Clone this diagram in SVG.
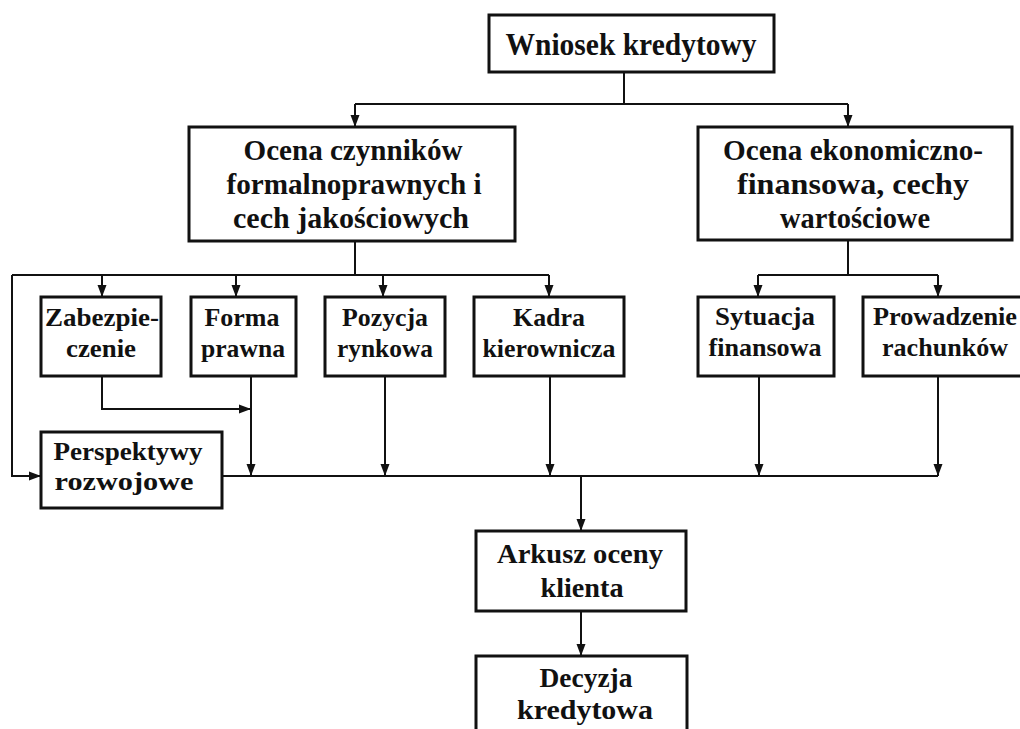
<svg xmlns="http://www.w3.org/2000/svg" width="1020" height="729" viewBox="0 0 1020 729">
  <style>
    .box { fill: #ffffff; stroke: #111111; stroke-width: 3; }
    .wire { fill: none; stroke: #111111; stroke-width: 2; }
    text { font-family: "Liberation Serif", "Times New Roman", serif; font-weight: bold; fill: #111111; text-anchor: middle; }
    .t32 { font-size: 32px; }
    .t30 { font-size: 30px; }
    .t26 { font-size: 26px; }
    .t27 { font-size: 27px; }
  </style>
  <defs>
    <marker id="arrow" markerUnits="userSpaceOnUse" markerWidth="12" markerHeight="10" refX="12" refY="5" orient="auto">
      <path d="M0,0.5 L12,5 L0,9.5 Z" fill="#111111"/>
    </marker>
  </defs>

  <rect width="1020" height="729" fill="#ffffff"/>

  <!-- connectors -->
  <g id="connectors">
    <!-- request to the two assessment branches -->
    <path class="wire" d="M624,72 V104"/>
    <path class="wire" d="M355,104 H848"/>
    <path class="wire" d="M355,104 V127" marker-end="url(#arrow)"/>
    <path class="wire" d="M848,104 V127" marker-end="url(#arrow)"/>

    <!-- formal / qualitative branch -->
    <path class="wire" d="M355,241 V275"/>
    <path class="wire" d="M12,275 H549"/>
    <path class="wire" d="M102,275 V297" marker-end="url(#arrow)"/>
    <path class="wire" d="M236,275 V297" marker-end="url(#arrow)"/>
    <path class="wire" d="M383,275 V297" marker-end="url(#arrow)"/>
    <path class="wire" d="M549,275 V297" marker-end="url(#arrow)"/>
    <path class="wire" d="M12,275 V476 H41" marker-end="url(#arrow)"/>

    <!-- economic / financial branch -->
    <path class="wire" d="M848,240 V275"/>
    <path class="wire" d="M758,275 H938"/>
    <path class="wire" d="M758,275 V297" marker-end="url(#arrow)"/>
    <path class="wire" d="M938,275 V297" marker-end="url(#arrow)"/>

    <!-- factors into the collecting line -->
    <path class="wire" d="M102,376 V409 H251" marker-end="url(#arrow)"/>
    <path class="wire" d="M251,376 V476" marker-end="url(#arrow)"/>
    <path class="wire" d="M385,376 V476" marker-end="url(#arrow)"/>
    <path class="wire" d="M550,376 V476" marker-end="url(#arrow)"/>
    <path class="wire" d="M759,376 V476" marker-end="url(#arrow)"/>
    <path class="wire" d="M938,376 V476" marker-end="url(#arrow)"/>
    <path class="wire" d="M222,476 H938"/>

    <!-- evaluation sheet and decision -->
    <path class="wire" d="M581,476 V531" marker-end="url(#arrow)"/>
    <path class="wire" d="M581,611 V656" marker-end="url(#arrow)"/>
  </g>

  <!-- nodes -->
  <g id="wniosek">
    <rect class="box" x="489" y="15" width="285" height="57"/>
    <text class="t32" x="631" y="55" textLength="251" lengthAdjust="spacingAndGlyphs">Wniosek kredytowy</text>
  </g>

  <g id="ocena-formalna">
    <rect class="box" x="189" y="127" width="326" height="114"/>
    <text class="t30" x="353" y="160" textLength="219" lengthAdjust="spacingAndGlyphs">Ocena czynników</text>
    <text class="t30" x="354" y="194" textLength="255" lengthAdjust="spacingAndGlyphs">formalnoprawnych i</text>
    <text class="t30" x="351" y="228" textLength="236" lengthAdjust="spacingAndGlyphs">cech jakościowych</text>
  </g>

  <g id="ocena-ekonomiczna">
    <rect class="box" x="698" y="127" width="314" height="113"/>
    <text class="t30" x="853" y="160" textLength="260" lengthAdjust="spacingAndGlyphs">Ocena ekonomiczno-</text>
    <text class="t30" x="853" y="194" textLength="232" lengthAdjust="spacingAndGlyphs">finansowa, cechy</text>
    <text class="t30" x="855" y="228" textLength="150" lengthAdjust="spacingAndGlyphs">wartościowe</text>
  </g>

  <g id="zabezpieczenie">
    <rect class="box" x="41" y="297" width="120" height="79"/>
    <text class="t26" x="102" y="326" textLength="114" lengthAdjust="spacingAndGlyphs">Zabezpie-</text>
    <text class="t26" x="101" y="357" textLength="70" lengthAdjust="spacingAndGlyphs">czenie</text>
  </g>

  <g id="forma-prawna">
    <rect class="box" x="191" y="297" width="105" height="79"/>
    <text class="t26" x="242" y="326" textLength="75" lengthAdjust="spacingAndGlyphs">Forma</text>
    <text class="t26" x="243" y="357" textLength="84" lengthAdjust="spacingAndGlyphs">prawna</text>
  </g>

  <g id="pozycja-rynkowa">
    <rect class="box" x="325" y="297" width="120" height="79"/>
    <text class="t26" x="385" y="326" textLength="86" lengthAdjust="spacingAndGlyphs">Pozycja</text>
    <text class="t26" x="385" y="357" textLength="96" lengthAdjust="spacingAndGlyphs">rynkowa</text>
  </g>

  <g id="kadra-kierownicza">
    <rect class="box" x="474" y="297" width="150" height="79"/>
    <text class="t26" x="549" y="326" textLength="72" lengthAdjust="spacingAndGlyphs">Kadra</text>
    <text class="t26" x="549" y="357" textLength="133" lengthAdjust="spacingAndGlyphs">kierownicza</text>
  </g>

  <g id="sytuacja-finansowa">
    <rect class="box" x="698" y="297" width="136" height="79"/>
    <text class="t26" x="765" y="325" textLength="100" lengthAdjust="spacingAndGlyphs">Sytuacja</text>
    <text class="t26" x="765" y="356" textLength="113" lengthAdjust="spacingAndGlyphs">finansowa</text>
  </g>

  <g id="prowadzenie-rachunkow">
    <rect class="box" x="863" y="297" width="160" height="79"/>
    <text class="t26" x="945" y="325" textLength="144" lengthAdjust="spacingAndGlyphs">Prowadzenie</text>
    <text class="t26" x="945" y="356" textLength="126" lengthAdjust="spacingAndGlyphs">rachunków</text>
  </g>

  <g id="perspektywy">
    <rect class="box" x="41" y="432" width="181" height="76"/>
    <text class="t26" x="128" y="460" textLength="149" lengthAdjust="spacingAndGlyphs">Perspektywy</text>
    <text class="t26" x="124" y="490" textLength="139" lengthAdjust="spacingAndGlyphs">rozwojowe</text>
  </g>

  <g id="arkusz">
    <rect class="box" x="476" y="531" width="210" height="80"/>
    <text class="t27" x="580" y="563" textLength="166" lengthAdjust="spacingAndGlyphs">Arkusz oceny</text>
    <text class="t27" x="582" y="597" textLength="83" lengthAdjust="spacingAndGlyphs">klienta</text>
  </g>

  <g id="decyzja">
    <rect class="box" x="476" y="656" width="211" height="80"/>
    <text class="t27" x="586" y="687" textLength="93" lengthAdjust="spacingAndGlyphs">Decyzja</text>
    <text class="t27" x="585" y="719" textLength="136" lengthAdjust="spacingAndGlyphs">kredytowa</text>
  </g>
</svg>
